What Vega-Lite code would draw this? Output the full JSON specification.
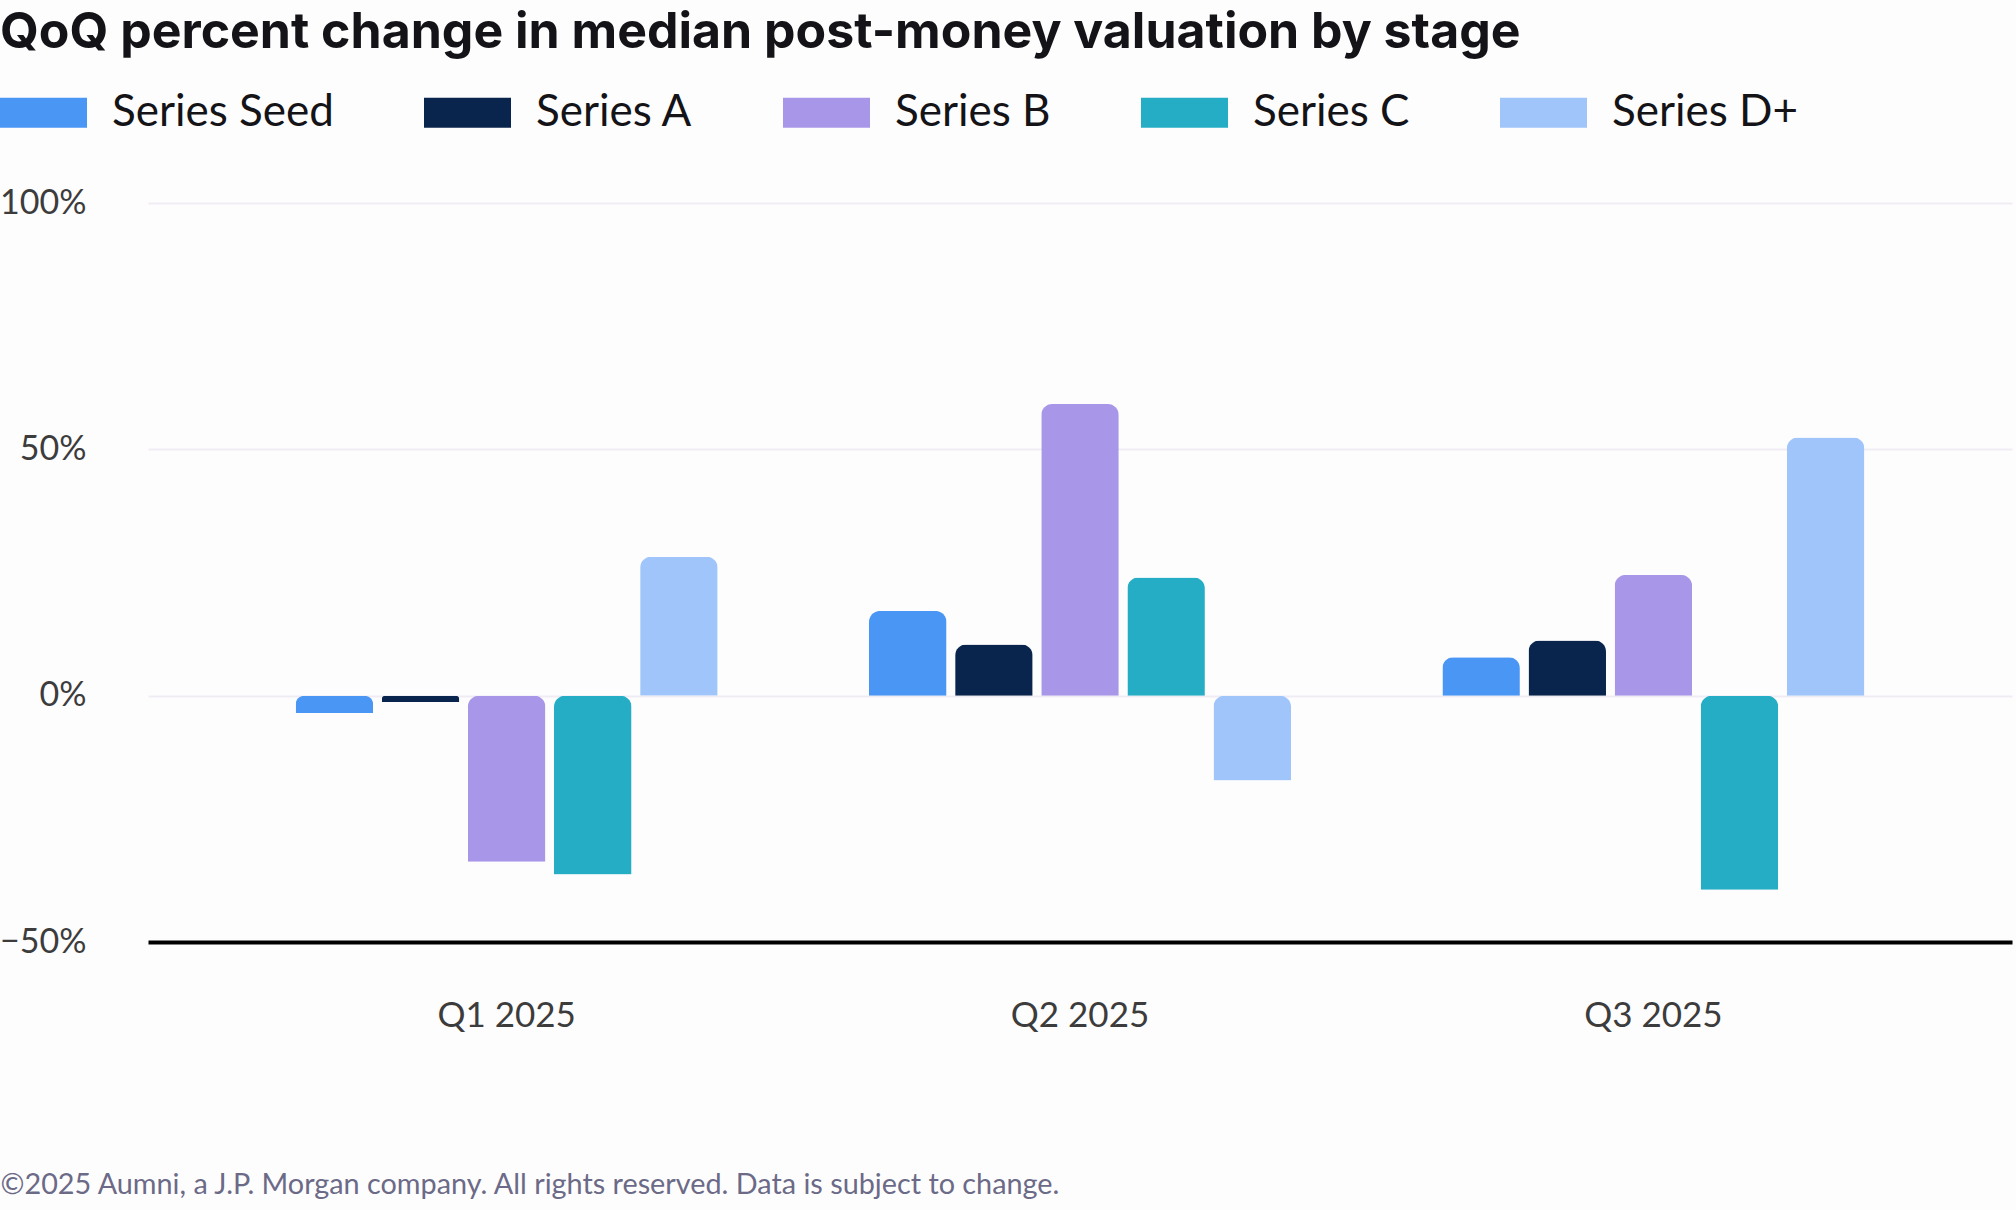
{
  "$schema": "https://vega.github.io/schema/vega-lite/v6.json",
  "width": 1864,
  "height": 739,
  "autosize": {"type": "none"},
  "padding": {"left": 148, "top": 203, "right": 4, "bottom": 268},
  "background": "#fefdfe",
  "title": {
    "text": "QoQ percent change in median post-money valuation by stage",
    "anchor": "start",
    "frame": "group",
    "dx": -148,
    "dy": 49,
    "offset": 20,
    "baseline": "alphabetic",
    "font": "Inter",
    "fontSize": 50,
    "fontWeight": 700,
    "color": "#141418"
  },
  "data": {
    "values": [
      {"quarter": "Q1 2025", "series": "Series Seed", "change": -0.035},
      {"quarter": "Q1 2025", "series": "Series A", "change": -0.013},
      {"quarter": "Q1 2025", "series": "Series B", "change": -0.337},
      {"quarter": "Q1 2025", "series": "Series C", "change": -0.363},
      {"quarter": "Q1 2025", "series": "Series D+", "change": 0.282},
      {"quarter": "Q2 2025", "series": "Series Seed", "change": 0.172},
      {"quarter": "Q2 2025", "series": "Series A", "change": 0.104},
      {"quarter": "Q2 2025", "series": "Series B", "change": 0.592},
      {"quarter": "Q2 2025", "series": "Series C", "change": 0.240},
      {"quarter": "Q2 2025", "series": "Series D+", "change": -0.172},
      {"quarter": "Q3 2025", "series": "Series Seed", "change": 0.078},
      {"quarter": "Q3 2025", "series": "Series A", "change": 0.112},
      {"quarter": "Q3 2025", "series": "Series B", "change": 0.245},
      {"quarter": "Q3 2025", "series": "Series C", "change": -0.394},
      {"quarter": "Q3 2025", "series": "Series D+", "change": 0.524}
    ]
  },
  "mark": {"type": "bar", "cornerRadiusEnd": 11},
  "encoding": {
    "x": {
      "field": "quarter",
      "type": "nominal",
      "scale": {"paddingInner": 0.264, "paddingOuter": 0.2575},
      "axis": {
        "title": "©2025 Aumni, a J.P. Morgan company. All rights reserved. Data is subject to change.",
        "titleX": -148,
        "titleY": 242,
        "titleAnchor": "start",
        "titleAlign": "left",
        "titleBaseline": "middle",
        "titleFont": "Lato",
        "titleFontSize": 28.8,
        "titleFontWeight": 400,
        "titleColor": "#6b6a87",
        "labelFont": "Lato",
        "labelFontSize": 35,
        "labelColor": "#3c3c3c",
        "labelPadding": 56,
        "labelAngle": 0,
        "ticks": false,
        "grid": false,
        "domain": true,
        "domainColor": "#000000",
        "domainWidth": 4
      }
    },
    "xOffset": {
      "field": "series",
      "type": "nominal",
      "sort": ["Series Seed", "Series A", "Series B", "Series C", "Series D+"],
      "scale": {"paddingInner": 0.1, "paddingOuter": 0}
    },
    "y": {
      "field": "change",
      "type": "quantitative",
      "scale": {"domain": [-0.5, 1.0], "nice": false},
      "axis": {
        "title": null,
        "values": [-0.5, 0, 0.5, 1],
        "format": ".0%",
        "labelFont": "Lato",
        "labelFontSize": 34,
        "labelColor": "#3c3c3c",
        "labelPadding": 62,
        "ticks": false,
        "domain": false,
        "grid": true,
        "gridColor": "#efedf3",
        "gridWidth": 2
      }
    },
    "color": {
      "field": "series",
      "type": "nominal",
      "scale": {
        "domain": ["Series Seed", "Series A", "Series B", "Series C", "Series D+"],
        "range": ["#4a96f5", "#0a254d", "#a897e8", "#25adc5", "#9fc5fb"]
      },
      "legend": {
        "title": null,
        "orient": "none",
        "legendX": -148,
        "legendY": -134,
        "direction": "horizontal",
        "symbolType": "M-1,-0.345L1,-0.345L1,0.345L-1,0.345Z",
        "symbolSize": 7569,
        "symbolStrokeWidth": 0,
        "symbolOpacity": 1,
        "labelFont": "Lato",
        "labelFontSize": 44,
        "labelColor": "#141418",
        "labelLimit": 500,
        "labelOffset": 25,
        "columnPadding": 90,
        "padding": 0
      }
    }
  },
  "config": {
    "view": {"stroke": null}
  }
}
